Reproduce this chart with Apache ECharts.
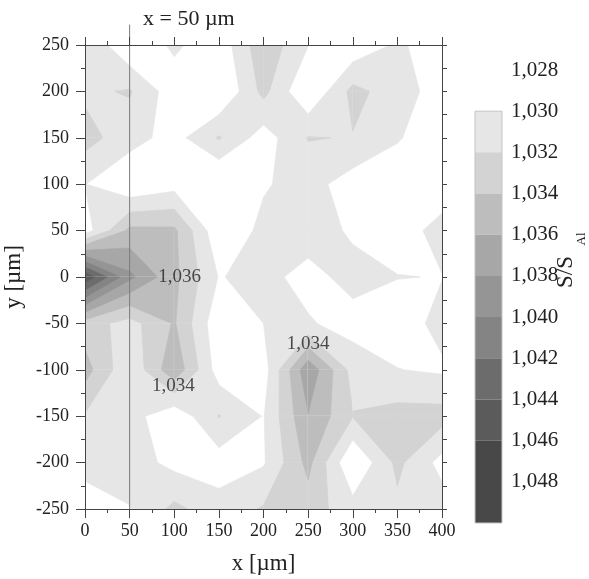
<!DOCTYPE html>
<html><head><meta charset="utf-8">
<script src="https://cdn.jsdelivr.net/npm/echarts@6/dist/echarts.min.js"></script>
<style>html,body{margin:0;padding:0;background:#fff}#c{width:589px;height:579px}</style>
</head><body><div id="c"></div>
<script>
// grid positions (µm)
const xPositions = [0, 50, 100, 150, 200, 250, 300, 350, 400];
const yPositions = [250, 200, 150, 100, 50, 0, -50, -100, -150, -200, -250];
// S/S_Al values, one row per y position (x = 0 ... 400)
const z_p250 = [1.0318, 1.0282, 1.0304, 1.0286, 1.0335, 1.03005, 1.0285, 1.0303, 1.0290];
const z_p200 = [1.0316, 1.0322, 1.0288, 1.0278, 1.0326, 1.0280, 1.0326, 1.0310, 1.0290];
const z_p150 = [1.0328, 1.0308, 1.0292, 1.0322, 1.0290, 1.0321, 1.0319, 1.0302, 1.0285];
const z_p100 = [1.03005, 1.0282, 1.0292, 1.0275, 1.0298, 1.0308, 1.0290, 1.0285, 1.0290];
const z_p50  = [1.0290, 1.0345, 1.0344, 1.0284, 1.0305, 1.0310, 1.0297, 1.0292, 1.0306];
const z_0    = [1.0455, 1.0385, 1.0345, 1.0299, 1.0306, 1.0293, 1.0307, 1.03005, 1.02995];
const z_m50  = [1.0330, 1.0312, 1.0342, 1.0285, 1.0300, 1.0302, 1.0292, 1.0290, 1.0306];
const z_m100 = [1.0348, 1.0303, 1.0355, 1.0290, 1.0290, 1.0375, 1.0312, 1.03005, 1.0297];
const z_m150 = [1.0318, 1.0308, 1.0285, 1.0321, 1.0299, 1.0359, 1.0321, 1.0328, 1.0328];
const z_m200 = [1.0304, 1.0310, 1.0294, 1.0290, 1.0298, 1.0346, 1.0280, 1.0325, 1.0293];
const z_m250 = [1.0294, 1.0299, 1.0325, 1.0308, 1.0322, 1.0330, 1.0308, 1.0315, 1.0310];
const zRows = [z_p250, z_p200, z_p150, z_p100, z_p50, z_0, z_m50, z_m100, z_m150, z_m200, z_m250];
// contour levels and fill colours
const levels = [1.030, 1.032, 1.034, 1.036, 1.038, 1.040, 1.042, 1.044, 1.046];
const levelColors = ['#e6e6e6', '#d3d3d3', '#bdbdbd', '#a7a7a7', '#959595', '#848484', '#6c6c6c', '#5b5b5b', '#484848'];
const levelTops = [1.032, 1.034, 1.036, 1.038, 1.040, 1.042, 1.044, 1.046, 1.050];
// contour labels
const contourLabelText = ['1,036', '1,034', '1,034'];
const contourLabelX = [106, 99, 250];
const contourLabelY = [0, -118, -72];
// marker line x = 50 µm
const markerX = [50, 50];
const markerY = [-250, 272];

const SERIF = '"Liberation Serif", "DejaVu Serif", serif';
const chart = echarts.init(document.getElementById('c'), null, {renderer: 'canvas'});

const cells = [];
for (let i = 0; i < xPositions.length - 1; i++)
  for (let j = 0; j < yPositions.length - 1; j++)
    cells.push([xPositions[i], yPositions[j], i, j]);

function renderCell(params, api) {
  const i = api.value(2), j = api.value(3);
  const c = [
    {x: xPositions[i],     y: yPositions[j],     v: zRows[j][i]},
    {x: xPositions[i + 1], y: yPositions[j],     v: zRows[j][i + 1]},
    {x: xPositions[i + 1], y: yPositions[j + 1], v: zRows[j + 1][i + 1]},
    {x: xPositions[i],     y: yPositions[j + 1], v: zRows[j + 1][i]}
  ];
  const centre = (c[0].v + c[1].v + c[2].v + c[3].v) / 4;
  const children = [];
  levels.forEach((t, k) => {
    const arcs = [];
    let cur = null;
    for (let n = 0; n < 4; n++) {
      const a = c[n], b = c[(n + 1) % 4];
      const ain = a.v >= t, bin = b.v >= t;
      if (ain) { if (!cur) { cur = []; arcs.push(cur); } cur.push([a.x, a.y]); }
      if (ain !== bin) {
        const f = (t - a.v) / (b.v - a.v);
        const p = [a.x + f * (b.x - a.x), a.y + f * (b.y - a.y)];
        if (ain) { cur.push(p); cur = null; }
        else { cur = [p]; arcs.push(cur); }
      }
    }
    if (cur && arcs.length > 1) {
      const last = arcs.pop();
      arcs[0] = last.concat(arcs[0]);
    }
    let polys;
    if (arcs.length === 2 && centre >= t) polys = [arcs[0].concat(arcs[1])];
    else polys = arcs;
    polys.forEach(poly => {
      if (poly.length >= 3) {
        children.push({type: 'polygon', shape: {points: poly.map(p => api.coord(p))},
          style: {fill: levelColors[k], stroke: levelColors[k], lineWidth: 0.7}});
      }
    });
  });
  return {type: 'group', children};
}

const bands = levels.map((lo, k) => [lo, levelTops[k], k]);

function renderBand(params, api) {
  const lo = api.value(0), hi = api.value(1), k = api.value(2);
  const p1 = api.coord([0, lo]), p2 = api.coord([1, hi]);
  return {type: 'rect', shape: {x: p1[0], y: Math.min(p1[1], p2[1]), width: p2[0] - p1[0], height: Math.abs(p2[1] - p1[1])},
    style: {fill: levelColors[k]}};
}
function renderOutline(params, api) {
  const p1 = api.coord([0, api.value(0)]), p2 = api.coord([1, api.value(1)]);
  return {type: 'rect', shape: {x: p1[0], y: Math.min(p1[1], p2[1]), width: p2[0] - p1[0], height: Math.abs(p2[1] - p1[1])},
    style: {fill: 'none', stroke: '#c4c4c4', lineWidth: 1}};
}

const axisLineStyle = {color: '#444', width: 1};
const labelStyle = {fontFamily: SERIF, fontSize: 18, color: '#222'};

chart.setOption({
  animation: false,
  backgroundColor: '#fff',
  title: {text: 'x = 50 µm', left: 138, top: 3,
    textStyle: {fontFamily: SERIF, fontSize: 22, fontWeight: 'normal', color: '#222'}},
  grid: [
    {left: 85, right: 147, top: 45, bottom: 70, containLabel: false, outerBoundsMode: 'none'},
    {left: 475, width: 27, top: 70, height: 453, containLabel: false, outerBoundsMode: 'none'}
  ],
  xAxis: [
    {type: 'value', gridIndex: 0, position: 'bottom', min: 0, max: 400, interval: 50, z: 10,
      axisLine: {onZero: false, lineStyle: axisLineStyle}, axisTick: {length: 9, lineStyle: axisLineStyle},
      minorTick: {show: true, splitNumber: 2, length: 4, lineStyle: axisLineStyle},
      splitLine: {show: false}, axisLabel: Object.assign({margin: 13}, labelStyle),
      name: 'x [µm]', nameLocation: 'middle', nameGap: 43,
      nameTextStyle: {fontFamily: SERIF, fontSize: 23, color: '#222'}},
    {type: 'value', gridIndex: 0, position: 'top', min: 0, max: 400, interval: 50, z: 10,
      axisLine: {onZero: false, lineStyle: axisLineStyle}, axisTick: {length: 8, lineStyle: axisLineStyle},
      minorTick: {show: true, splitNumber: 2, length: 4, lineStyle: axisLineStyle},
      splitLine: {show: false}, axisLabel: {show: false}},
    {type: 'value', gridIndex: 1, min: 0, max: 1, show: false}
  ],
  yAxis: [
    {type: 'value', gridIndex: 0, position: 'left', min: -250, max: 250, interval: 50, z: 10,
      axisLine: {onZero: false, lineStyle: axisLineStyle}, axisTick: {length: 9, lineStyle: axisLineStyle},
      minorTick: {show: true, splitNumber: 2, length: 4, lineStyle: axisLineStyle},
      splitLine: {show: false}, axisLabel: Object.assign({margin: 16}, labelStyle),
      name: 'y [µm]', nameLocation: 'middle', nameGap: 54, nameRotate: 90,
      nameTextStyle: {fontFamily: SERIF, fontSize: 23, color: '#222'}},
    {type: 'value', gridIndex: 0, position: 'right', min: -250, max: 250, interval: 25, z: 10,
      axisLine: {onZero: false, lineStyle: axisLineStyle}, axisTick: {length: 5, lineStyle: axisLineStyle},
      splitLine: {show: false}, axisLabel: {show: false}},
    {type: 'value', gridIndex: 1, position: 'right', min: 1.028, max: 1.050, interval: 0.002, inverse: true,
      axisLine: {show: false}, axisTick: {show: false}, splitLine: {show: false},
      axisLabel: {margin: 9, fontFamily: SERIF, fontSize: 21, color: '#222', showMaxLabel: false,
        formatter: v => v.toFixed(3).replace('.', ',')}}
  ],
  graphic: [
    {type: 'text', x: 566, y: 272, rotation: Math.PI / 2,
      style: {text: 'S/S', font: '23px "Liberation Serif"', fill: '#222', align: 'center', verticalAlign: 'middle'}},
    {type: 'text', x: 582, y: 239, rotation: Math.PI / 2,
      style: {text: 'Al', font: '13px "Liberation Serif"', fill: '#222', align: 'center', verticalAlign: 'middle'}}
  ],
  series: [
    {type: 'custom', xAxisIndex: 0, yAxisIndex: 0, renderItem: renderCell, data: cells, silent: true, z: 1, clip: true},
    {type: 'line', xAxisIndex: 0, yAxisIndex: 0, data: markerX.map((x, k) => [x, markerY[k]]),
      symbol: 'none', clip: false, silent: true, z: 5, lineStyle: {color: '#7a7a7a', width: 1}},
    {type: 'scatter', xAxisIndex: 0, yAxisIndex: 0, symbolSize: 0, silent: true, z: 6,
      data: contourLabelText.map((t, k) => [contourLabelX[k], contourLabelY[k], t]),
      label: {show: true, position: 'inside', formatter: p => p.data[2],
        fontFamily: SERIF, fontSize: 19, color: '#222'}},
    {type: 'custom', xAxisIndex: 2, yAxisIndex: 2, renderItem: renderBand, data: bands, silent: true},
    {type: 'custom', xAxisIndex: 2, yAxisIndex: 2, renderItem: renderOutline, data: [[1.030, 1.050]], silent: true, z: 3}
  ]
});
</script></body></html>
